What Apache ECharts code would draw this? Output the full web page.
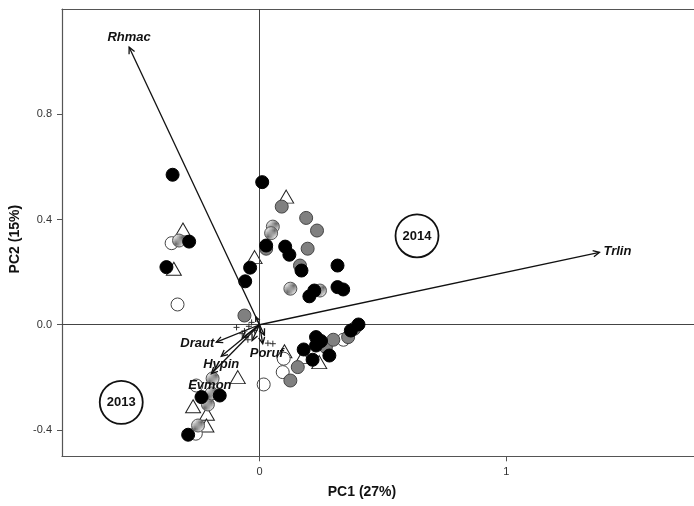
<!DOCTYPE html>
<html>
<head>
<meta charset="utf-8">
<title>PCA biplot</title>
<script src="https://cdn.jsdelivr.net/npm/echarts@6/dist/echarts.min.js"></script>
<style>
  html, body { margin: 0; padding: 0; background: #fff; }
  #chart { width: 694px; height: 506px; }
</style>
</head>
<body>
<div id="chart"></div>
<script>
// ---- Site scores (PC1, PC2) by sample group ----
const blackPts = [
  [-0.352, 0.570], [-0.285, 0.316], [-0.377, 0.219], [-0.038, 0.217], [-0.058, 0.165],
  [0.011, 0.542], [0.027, 0.301], [0.104, 0.297], [0.121, 0.266], [0.170, 0.206],
  [0.316, 0.225], [0.202, 0.108], [0.222, 0.130], [0.316, 0.143], [0.339, 0.134],
  [-0.235, -0.275], [-0.161, -0.269], [-0.289, -0.418], [0.179, -0.094], [0.229, -0.047],
  [0.249, -0.062], [0.229, -0.079], [0.215, -0.133], [0.283, -0.117], [0.370, -0.022],
  [0.401, 0.001]
];
const greyPts = [
  [-0.061, 0.035], [0.090, 0.449], [0.189, 0.406], [0.233, 0.358], [0.027, 0.289],
  [0.195, 0.289], [0.164, 0.225], [0.155, -0.161], [0.125, -0.212], [0.269, -0.085],
  [0.299, -0.057], [0.359, -0.047], [0.384, -0.015]
];
const hatchedPts = [
  [-0.326, 0.320], [0.054, 0.373], [0.047, 0.348], [0.125, 0.137], [0.245, 0.130],
  [-0.209, -0.303], [-0.194, -0.261], [-0.249, -0.383], [-0.190, -0.204]
];
const openPts = [
  [-0.356, 0.310], [-0.332, 0.077], [0.017, -0.227], [-0.256, -0.231], [-0.258, -0.414],
  [0.098, -0.129], [0.094, -0.180], [0.340, -0.057]
];
const trianglePts = [
  [-0.310, 0.362], [-0.347, 0.213], [-0.020, 0.257], [0.108, 0.487], [-0.088, -0.199],
  [-0.269, -0.310], [-0.213, -0.338], [-0.215, -0.383], [0.101, -0.101], [0.242, -0.142],
  [0.175, -0.123]
];
// ---- Species scores drawn as small crosses ----
const speciesPts = [
  [-0.061, -0.024], [-0.043, -0.006], [-0.070, -0.034], [-0.047, -0.057], [0.034, -0.070],
  [0.054, -0.072], [-0.093, -0.010], [-0.020, -0.022], [-0.032, 0.009]
];
// ---- Species loading vectors ----
const loadingNames = ['Rhmac', 'Trlin', 'Draut', 'Hypin', 'Evmon', 'Poruf', '', '', '', ''];
const loadingX = [-0.528, 1.377, -0.175, -0.155, -0.195, 0.013, -0.070, -0.030, 0.020, -0.015];
const loadingY = [1.055, 0.275, -0.066, -0.120, -0.186, -0.072, -0.050, -0.060, -0.040, 0.030];
// ---- Year annotations ----
const yearLabels = ['2014', '2013'];
const yearX = [0.638, -0.560];
const yearY = [0.338, -0.295];
// ---- Axis ticks ----
const xTicks = [0, 1];
const yTicks = [-0.4, 0.0, 0.4, 0.8];

// label placement relative to each arrow tip: [dx, dy, align]
const loadingLabelPos = {
  Rhmac: [0, -10, 'center'],
  Trlin: [4, -1, 'left'],
  Draut: [-2, 1, 'right'],
  Hypin: [0, 8.5, 'center'],
  Evmon: [-1.5, 12, 'center'],
  Poruf: [4, 10, 'center']
};

const FONT = '"Liberation Sans", Arial, Helvetica, sans-serif';
const FRAME = '#555';

// diagonal hatch fill
function makeHatch() {
  const c = document.createElement('canvas');
  const s = 4;
  c.width = s; c.height = s;
  const ctx = c.getContext('2d');
  ctx.fillStyle = '#ffffff';
  ctx.fillRect(0, 0, s, s);
  ctx.strokeStyle = '#606060';
  ctx.lineWidth = 1.1;
  ctx.beginPath();
  ctx.moveTo(0, s); ctx.lineTo(s, 0);
  ctx.moveTo(-1, 1); ctx.lineTo(1, -1);
  ctx.moveTo(s - 1, s + 1); ctx.lineTo(s + 1, s - 1);
  ctx.stroke();
  return c;
}

const chart = echarts.init(document.getElementById('chart'), null, { renderer: 'canvas' });

function renderArrow(params, api) {
  const i = params.dataIndex;
  const o = api.coord([0, 0]);
  const t = api.coord([api.value(0), api.value(1)]);
  const ang = Math.atan2(t[1] - o[1], t[0] - o[0]);
  const len = Math.hypot(t[0] - o[0], t[1] - o[1]);
  const L = Math.min(7, len * 0.6), A = Math.PI / 7;
  const h1 = [t[0] - L * Math.cos(ang - A), t[1] - L * Math.sin(ang - A)];
  const h2 = [t[0] - L * Math.cos(ang + A), t[1] - L * Math.sin(ang + A)];
  const children = [
    { type: 'line', shape: { x1: o[0], y1: o[1], x2: t[0], y2: t[1] },
      style: { stroke: '#111', lineWidth: 1.3 } },
    { type: 'polyline', shape: { points: [h1, t, h2] },
      style: { stroke: '#111', lineWidth: 1.3, fill: null } }
  ];
  const name = loadingNames[i];
  if (name) {
    const p = loadingLabelPos[name];
    children.push({
      type: 'text',
      style: {
        x: t[0] + p[0], y: t[1] + p[1], text: name,
        align: p[2], verticalAlign: 'middle',
        font: 'italic bold 13px ' + FONT, fill: '#111'
      }
    });
  }
  return { type: 'group', children };
}

function renderCross(params, api) {
  const c = api.coord([api.value(0), api.value(1)]);
  const r = 3;
  return {
    type: 'group',
    children: [
      { type: 'line', shape: { x1: c[0] - r, y1: c[1], x2: c[0] + r, y2: c[1] }, style: { stroke: '#333', lineWidth: 1 } },
      { type: 'line', shape: { x1: c[0], y1: c[1] - r, x2: c[0], y2: c[1] + r }, style: { stroke: '#333', lineWidth: 1 } }
    ]
  };
}

function renderYear(params, api) {
  const i = params.dataIndex;
  const c = api.coord([api.value(0), api.value(1)]);
  return {
    type: 'group',
    children: [
      { type: 'circle', shape: { cx: c[0], cy: c[1], r: 21.5 }, style: { stroke: '#111', lineWidth: 1.8, fill: null } },
      { type: 'text', style: { x: c[0], y: c[1] + 0.5, text: yearLabels[i], align: 'center', verticalAlign: 'middle',
        font: 'bold 13px ' + FONT, fill: '#111' } }
    ]
  };
}

function pointSeries(data, symbol, size, itemStyle, z) {
  return {
    type: 'scatter', data, symbol, symbolSize: size,
    itemStyle: Object.assign({ opacity: 1 }, itemStyle),
    z, silent: true, emphasis: { disabled: true }
  };
}

const option = {
  animation: false,
  backgroundColor: '#ffffff',
  grid: { left: 62, top: 9, right: -2, bottom: 49.7, show: false },
  xAxis: [
    {
      type: 'value', min: -0.8, max: 1.76, position: 'bottom',
      name: 'PC1 (27%)', nameLocation: 'middle', nameGap: 29,
      nameTextStyle: { fontFamily: FONT, fontSize: 14, fontWeight: 'bold', color: '#111', padding: [0, 32, 0, 0] },
      splitLine: { show: false },
      axisLine: { show: true, onZero: false, lineStyle: { color: FRAME, width: 1.2 } },
      axisTick: { show: true, length: 5, inside: false, customValues: xTicks, lineStyle: { color: FRAME } },
      axisLabel: { customValues: xTicks, margin: 10, fontFamily: FONT, fontSize: 11, color: '#333',
        formatter: v => String(v) }
    },
    {
      // top frame edge
      type: 'value', min: -0.8, max: 1.76, position: 'top',
      splitLine: { show: false },
      axisLine: { show: true, onZero: false, lineStyle: { color: FRAME, width: 1.2 } },
      axisTick: { show: false }, axisLabel: { show: false }
    }
  ],
  yAxis: {
    type: 'value', min: -0.5, max: 1.2,
    name: 'PC2 (15%)', nameLocation: 'middle', nameGap: 38,
    nameTextStyle: { fontFamily: FONT, fontSize: 14, fontWeight: 'bold', color: '#111', padding: [0, 13, 0, 0] },
    splitLine: { show: false },
    axisLine: { show: true, onZero: false, lineStyle: { color: FRAME, width: 1.2 } },
    axisTick: { show: true, length: 5, inside: false, customValues: yTicks, lineStyle: { color: FRAME } },
    axisLabel: { customValues: yTicks, margin: 10, fontFamily: FONT, fontSize: 11, color: '#333',
      formatter: v => v.toFixed(1) }
  },
  series: [
    {
      type: 'scatter', data: [], silent: true,
      markLine: {
        silent: true, symbol: 'none', animation: false,
        label: { show: false },
        lineStyle: { color: '#444', width: 1, type: 'solid' },
        emphasis: { disabled: true },
        data: [{ xAxis: 0 }, { yAxis: 0 }]
      },
      z: 1
    },
    pointSeries(trianglePts, 'triangle', [15, 13], { color: '#fff', borderColor: '#222', borderWidth: 1 }, 2),
    pointSeries(openPts, 'circle', 13, { color: '#fff', borderColor: '#444', borderWidth: 1 }, 3),
    pointSeries(hatchedPts, 'circle', 13, { color: { image: makeHatch(), repeat: 'repeat' }, borderColor: '#555', borderWidth: 1 }, 4),
    pointSeries(greyPts, 'circle', 13, { color: '#808080', borderColor: '#444', borderWidth: 1 }, 5),
    pointSeries(blackPts, 'circle', 13, { color: '#000', borderColor: '#000', borderWidth: 1 }, 6),
    {
      type: 'custom', renderItem: renderCross, silent: true, z: 7,
      data: speciesPts
    },
    {
      type: 'custom', renderItem: renderArrow, silent: true, z: 8, clip: false,
      data: loadingX.map((x, i) => [x, loadingY[i]])
    },
    {
      type: 'custom', renderItem: renderYear, silent: true, z: 9,
      data: yearX.map((x, i) => [x, yearY[i]])
    }
  ]
};

chart.setOption(option);
</script>
</body>
</html>
